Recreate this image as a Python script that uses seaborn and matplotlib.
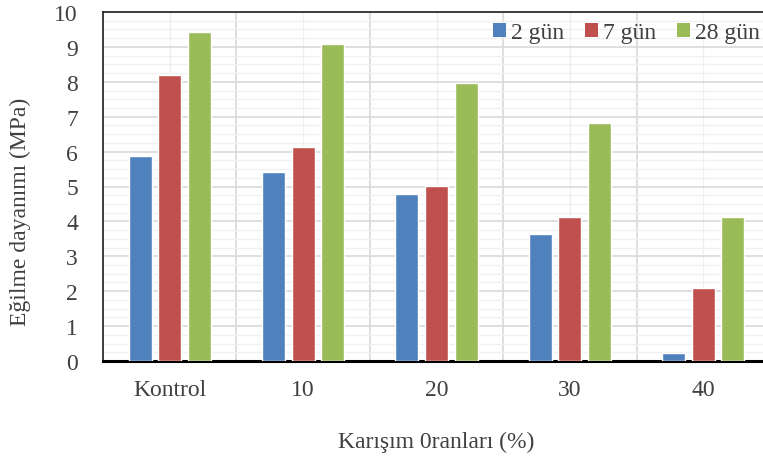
import matplotlib.pyplot as plt
import pandas as pd
import seaborn as sns
from matplotlib.patches import Patch
from matplotlib.ticker import MultipleLocator

CATEGORIES = ["Kontrol", "10", "20", "30", "40"]
SERIES = ["2 gün", "7 gün", "28 gün"]
GUN_2 = [5.87, 5.42, 4.79, 3.64, 0.23]
GUN_7 = [8.19, 6.13, 5.01, 4.13, 2.09]
GUN_28 = [9.43, 9.08, 7.97, 6.82, 4.13]
COLORS = ["#4f81bd", "#c0504d", "#9bbb59"]
TEXT_COLOR = "#404040"

df = pd.DataFrame(
    {
        "kategori": CATEGORIES * 3,
        "seri": [s for s in SERIES for _ in CATEGORIES],
        "deger": GUN_2 + GUN_7 + GUN_28,
    }
)

sns.set_theme(style="white")
plt.rcParams["font.family"] = ["Liberation Serif", "DejaVu Serif"]

fig = plt.figure(figsize=(7.63, 4.6), dpi=100)
ax = fig.add_axes([103 / 763, 98 / 460, 667 / 763, 349 / 460])

sns.barplot(
    data=df,
    x="kategori",
    y="deger",
    hue="seri",
    order=CATEGORIES,
    hue_order=SERIES,
    palette=COLORS,
    width=0.666,
    gap=0.22,
    saturation=1,
    legend=False,
    ax=ax,
    zorder=3,
)

ax.set_xlim(-0.5, 4.5)
ax.set_ylim(0, 10)
ax.yaxis.set_major_locator(MultipleLocator(1))
ax.yaxis.set_minor_locator(MultipleLocator(0.25))
ax.xaxis.set_minor_locator(MultipleLocator(1, offset=0.5))
ax.grid(which="major", axis="y", color="#d9d9d9", linewidth=1.2, zorder=0)
ax.grid(which="minor", axis="y", color="#f0f0f0", linewidth=1.0, zorder=0)
ax.grid(which="minor", axis="x", color="#d9d9d9", linewidth=1.2, zorder=0)
ax.grid(which="major", axis="x", color="#f0f0f0", linewidth=1.0, zorder=0)
ax.set_axisbelow(True)

for side in ["left", "top", "right"]:
    ax.spines[side].set_color("#202020")
    ax.spines[side].set_linewidth(1.2)
ax.spines["bottom"].set_color("black")
ax.spines["bottom"].set_linewidth(2.2)

ax.tick_params(axis="both", which="both", length=0, labelsize=17, labelcolor=TEXT_COLOR)
ax.tick_params(axis="x", pad=13)
ax.tick_params(axis="y", pad=18)

ax.set_xlabel("Karışım 0ranları (%)", fontsize=17, color=TEXT_COLOR, labelpad=22)
ax.set_ylabel("Eğilme dayanımı (MPa)", fontsize=17, color=TEXT_COLOR)
ax.yaxis.set_label_coords(-0.108, 0.43)

handles = [Patch(facecolor=c, edgecolor="none") for c in COLORS]
fig.legend(
    handles,
    SERIES,
    loc="center left",
    bbox_to_anchor=(493 / 763, 1 - 34 / 460),
    ncol=3,
    frameon=False,
    fontsize=17,
    labelcolor=TEXT_COLOR,
    handlelength=0.55,
    handleheight=0.55,
    handletextpad=0.2,
    columnspacing=0.9,
    borderaxespad=0,
    borderpad=0,
)

fig.savefig("out.png", dpi=100)
